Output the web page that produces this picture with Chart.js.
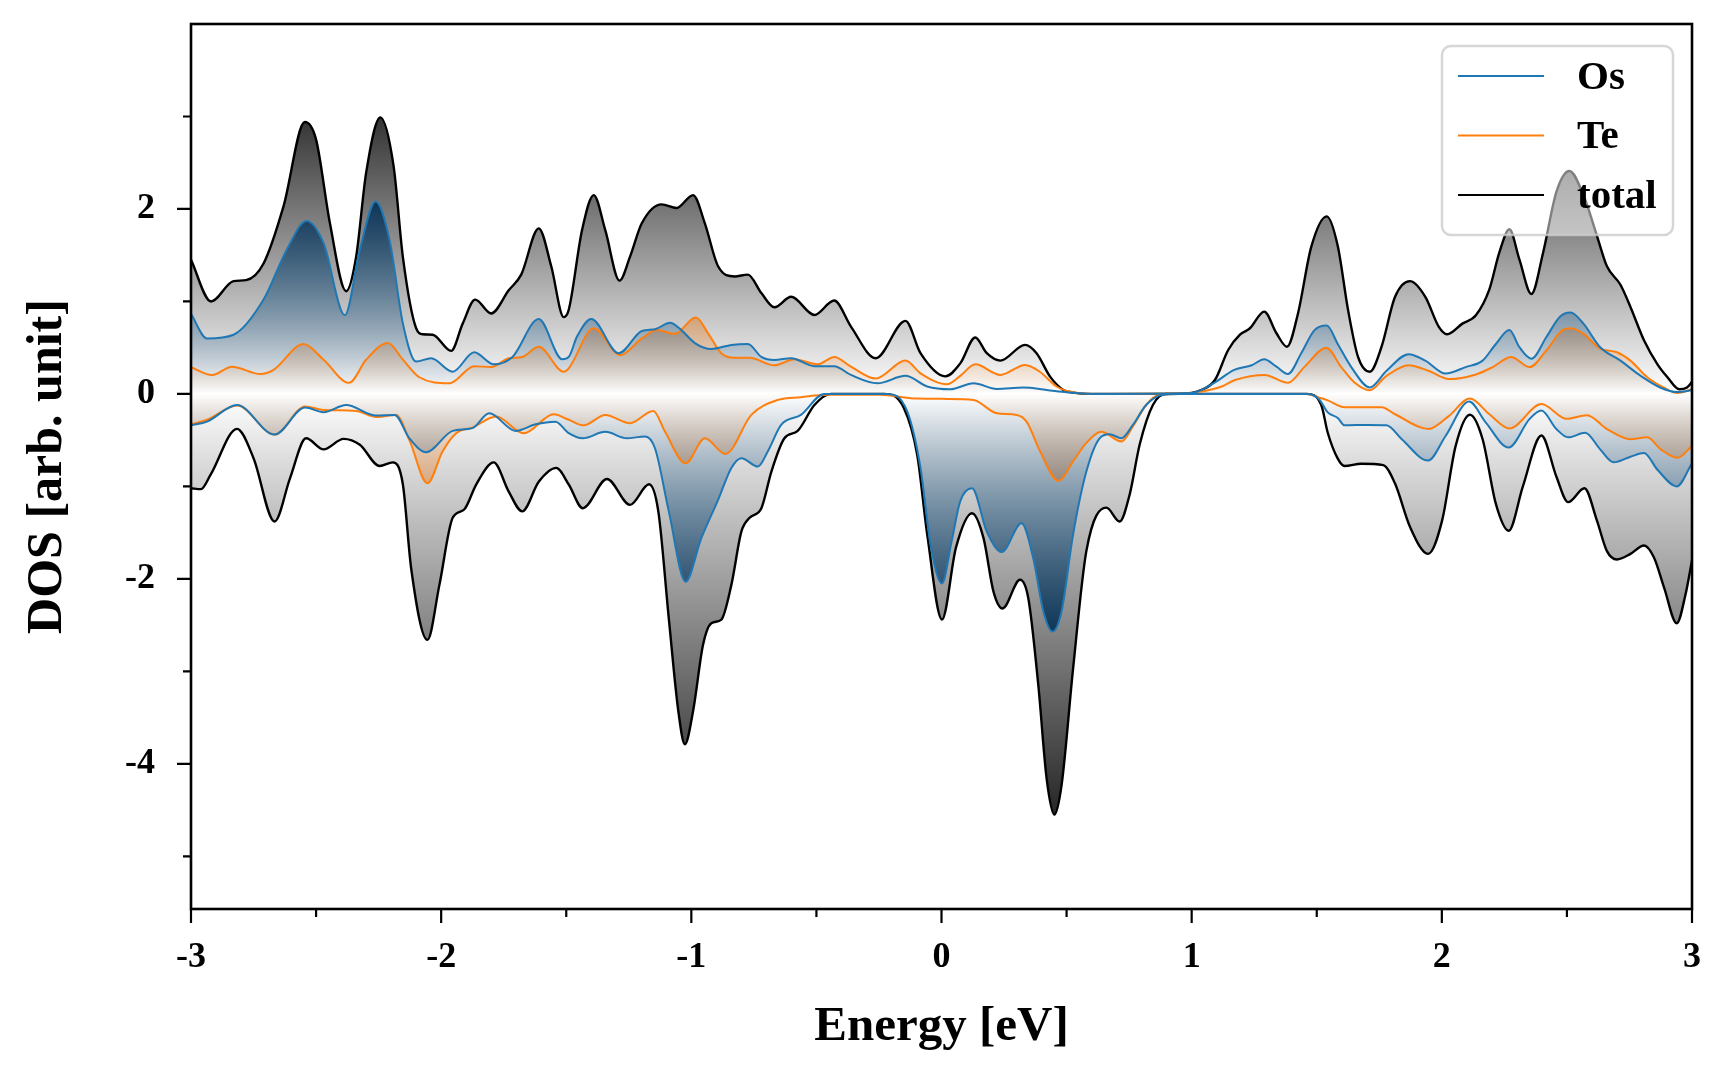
<!DOCTYPE html>
<html>
<head>
<meta charset="utf-8">
<script src="https://cdn.jsdelivr.net/npm/chart.js@4.4.1/dist/chart.umd.min.js"></script>
<style>
  html, body { margin: 0; padding: 0; background: #fff; }
  #wrap { width: 1728px; height: 1080px; }
</style>
</head>
<body>
<div id="wrap"><canvas id="dos"></canvas></div>
<script>
// Projected DOS: [energy (eV), DOS]
const osUp = [[-3.0,0.865],[-2.936,0.60],[-2.83,0.64],[-2.71,1.02],[-2.617,1.56],[-2.538,1.87],[-2.47,1.63],[-2.385,0.85],[-2.325,1.56],[-2.262,2.08],[-2.206,1.66],[-2.153,0.76],[-2.10,0.35],[-2.04,0.385],[-1.954,0.24],[-1.868,0.45],[-1.79,0.32],[-1.715,0.40],[-1.61,0.81],[-1.516,0.375],[-1.49,0.40],[-1.457,0.62],[-1.40,0.81],[-1.29,0.44],[-1.198,0.68],[-1.145,0.70],[-1.085,0.77],[-1.04,0.69],[-0.986,0.55],[-0.92,0.486],[-0.84,0.53],[-0.774,0.54],[-0.72,0.40],[-0.668,0.367],[-0.601,0.386],[-0.508,0.30],[-0.429,0.30],[-0.362,0.205],[-0.256,0.115],[-0.144,0.195],[-0.057,0.08],[0.035,0.05],[0.128,0.115],[0.221,0.054],[0.327,0.068],[0.42,0.043],[0.50,0.018],[0.6,0],[1.0,0.01],[1.09,0.12],[1.17,0.26],[1.24,0.31],[1.29,0.375],[1.339,0.295],[1.385,0.216],[1.438,0.44],[1.491,0.69],[1.54,0.74],[1.584,0.54],[1.638,0.29],[1.712,0.07],[1.779,0.25],[1.867,0.43],[1.934,0.36],[2.015,0.22],[2.095,0.29],[2.163,0.36],[2.216,0.54],[2.27,0.69],[2.31,0.505],[2.358,0.38],[2.418,0.615],[2.472,0.835],[2.515,0.88],[2.566,0.76],[2.633,0.505],[2.714,0.36],[2.795,0.195],[2.875,0.067],[2.942,0.02],[3.0,0.04]];
const teUp = [[-3.0,0.29],[-2.916,0.205],[-2.836,0.295],[-2.723,0.215],[-2.67,0.26],[-2.55,0.54],[-2.47,0.37],[-2.368,0.12],[-2.30,0.37],[-2.213,0.55],[-2.153,0.37],[-2.087,0.18],[-1.967,0.115],[-1.868,0.30],[-1.80,0.29],[-1.73,0.385],[-1.676,0.40],[-1.61,0.51],[-1.51,0.24],[-1.49,0.277],[-1.39,0.71],[-1.284,0.42],[-1.198,0.60],[-1.138,0.69],[-1.066,0.65],[-0.982,0.825],[-0.933,0.655],[-0.88,0.44],[-0.827,0.39],[-0.767,0.39],[-0.668,0.31],[-0.588,0.375],[-0.495,0.32],[-0.429,0.40],[-0.362,0.295],[-0.263,0.166],[-0.144,0.36],[-0.084,0.223],[0.022,0.105],[0.075,0.195],[0.135,0.32],[0.235,0.205],[0.334,0.313],[0.393,0.24],[0.46,0.08],[0.513,0.025],[0.6,0],[1.0,0.01],[1.04,0.025],[1.12,0.08],[1.173,0.15],[1.292,0.205],[1.385,0.12],[1.452,0.295],[1.538,0.50],[1.598,0.29],[1.652,0.12],[1.712,0.04],[1.779,0.195],[1.867,0.31],[1.947,0.25],[2.028,0.16],[2.136,0.21],[2.203,0.29],[2.277,0.40],[2.351,0.29],[2.418,0.47],[2.485,0.695],[2.515,0.71],[2.566,0.65],[2.633,0.49],[2.70,0.45],[2.754,0.36],[2.821,0.18],[2.888,0.067],[2.942,0.01],[3.0,0.05]];
const totalUp = [[-3.0,1.45],[-2.92,1.00],[-2.83,1.22],[-2.78,1.23],[-2.71,1.41],[-2.63,2.03],[-2.545,2.94],[-2.50,2.75],[-2.445,1.85],[-2.38,1.11],[-2.34,1.48],[-2.30,2.39],[-2.243,2.99],[-2.19,2.46],[-2.153,1.48],[-2.10,0.71],[-2.073,0.645],[-2.034,0.64],[-1.96,0.465],[-1.914,0.76],[-1.864,1.02],[-1.80,0.87],[-1.73,1.12],[-1.68,1.29],[-1.61,1.79],[-1.56,1.38],[-1.51,0.83],[-1.49,0.91],[-1.437,1.77],[-1.39,2.15],[-1.344,1.77],[-1.287,1.225],[-1.245,1.485],[-1.198,1.845],[-1.119,2.05],[-1.059,2.01],[-0.993,2.15],[-0.946,1.845],[-0.893,1.38],[-0.827,1.27],[-0.774,1.29],[-0.72,1.09],[-0.668,0.937],[-0.601,1.05],[-0.508,0.854],[-0.429,1.01],[-0.362,0.728],[-0.263,0.386],[-0.144,0.79],[-0.084,0.44],[0.015,0.19],[0.075,0.33],[0.135,0.61],[0.181,0.44],[0.235,0.36],[0.334,0.53],[0.38,0.44],[0.434,0.187],[0.487,0.043],[0.526,0.014],[0.6,0],[0.95,0],[1.04,0.043],[1.093,0.15],[1.146,0.475],[1.193,0.64],[1.233,0.71],[1.29,0.89],[1.339,0.656],[1.381,0.51],[1.425,0.87],[1.478,1.59],[1.54,1.92],[1.584,1.60],[1.625,0.91],[1.665,0.40],[1.712,0.24],[1.759,0.51],[1.813,1.05],[1.873,1.22],[1.934,1.05],[1.988,0.725],[2.021,0.645],[2.082,0.76],[2.136,0.85],[2.19,1.13],[2.23,1.53],[2.27,1.78],[2.31,1.455],[2.358,1.08],[2.405,1.53],[2.458,2.185],[2.51,2.41],[2.566,2.15],[2.62,1.71],[2.66,1.38],[2.714,1.18],[2.754,0.94],[2.808,0.58],[2.862,0.32],[2.902,0.18],[2.949,0.05],[2.98,0.07],[3.0,0.13]];
const osDown = [[-3.0,-0.34],[-2.936,-0.30],[-2.816,-0.12],[-2.666,-0.44],[-2.544,-0.148],[-2.47,-0.198],[-2.38,-0.12],[-2.26,-0.234],[-2.186,-0.227],[-2.127,-0.48],[-2.06,-0.63],[-1.954,-0.40],[-1.875,-0.37],[-1.808,-0.21],[-1.702,-0.40],[-1.622,-0.328],[-1.543,-0.30],[-1.49,-0.425],[-1.434,-0.48],[-1.344,-0.41],[-1.258,-0.48],[-1.185,-0.46],[-1.145,-0.59],[-1.09,-1.27],[-1.023,-2.03],[-0.96,-1.56],[-0.893,-1.146],[-0.84,-0.80],[-0.80,-0.695],[-0.734,-0.786],[-0.694,-0.62],[-0.641,-0.335],[-0.562,-0.227],[-0.469,0],[-0.217,0],[-0.137,-0.19],[-0.084,-0.80],[-0.044,-1.63],[0.002,-2.05],[0.04,-1.6],[0.075,-1.16],[0.122,-1.02],[0.181,-1.49],[0.241,-1.71],[0.32,-1.40],[0.367,-1.78],[0.407,-2.35],[0.444,-2.57],[0.48,-2.35],[0.526,-1.52],[0.579,-0.84],[0.632,-0.48],[0.672,-0.436],[0.719,-0.48],[0.765,-0.335],[0.818,-0.12],[0.884,-0.01],[0.95,0],[1.46,0],[1.51,-0.06],[1.544,-0.20],[1.584,-0.26],[1.611,-0.34],[1.705,-0.335],[1.779,-0.34],[1.84,-0.49],[1.945,-0.72],[2.015,-0.455],[2.109,-0.083],[2.176,-0.31],[2.267,-0.58],[2.351,-0.27],[2.398,-0.18],[2.458,-0.38],[2.505,-0.47],[2.573,-0.42],[2.633,-0.60],[2.687,-0.74],[2.754,-0.68],[2.808,-0.64],[2.862,-0.82],[2.939,-1.0],[3.0,-0.75]];
const teDown = [[-3.0,-0.33],[-2.936,-0.28],[-2.816,-0.126],[-2.666,-0.44],[-2.544,-0.137],[-2.47,-0.173],[-2.34,-0.184],[-2.26,-0.25],[-2.18,-0.227],[-2.127,-0.50],[-2.055,-0.966],[-1.994,-0.62],[-1.94,-0.425],[-1.875,-0.364],[-1.78,-0.245],[-1.67,-0.425],[-1.55,-0.22],[-1.49,-0.28],[-1.43,-0.34],[-1.344,-0.227],[-1.245,-0.317],[-1.152,-0.184],[-1.105,-0.41],[-1.023,-0.75],[-0.946,-0.48],[-0.864,-0.65],[-0.76,-0.227],[-0.654,-0.065],[-0.562,-0.036],[-0.455,-0.01],[-0.25,-0.01],[-0.10,-0.05],[0.022,-0.054],[0.128,-0.065],[0.221,-0.21],[0.30,-0.227],[0.34,-0.30],[0.394,-0.62],[0.467,-0.94],[0.526,-0.73],[0.579,-0.53],[0.639,-0.41],[0.719,-0.515],[0.765,-0.353],[0.818,-0.12],[0.87,-0.01],[0.95,0],[1.46,0],[1.51,-0.04],[1.544,-0.07],[1.611,-0.145],[1.759,-0.145],[1.813,-0.22],[1.947,-0.38],[2.028,-0.24],[2.112,-0.05],[2.19,-0.22],[2.27,-0.375],[2.398,-0.11],[2.499,-0.27],[2.58,-0.23],[2.66,-0.38],[2.754,-0.49],[2.821,-0.47],[2.875,-0.60],[2.942,-0.69],[3.0,-0.565]];
const totalDown = [[-3.0,-1.02],[-2.96,-1.03],[-2.922,-0.876],[-2.816,-0.378],[-2.75,-0.695],[-2.666,-1.38],[-2.604,-0.91],[-2.54,-0.48],[-2.47,-0.60],[-2.39,-0.486],[-2.325,-0.55],[-2.246,-0.78],[-2.193,-0.74],[-2.153,-0.98],[-2.12,-1.885],[-2.055,-2.66],[-2.007,-2.065],[-1.954,-1.34],[-1.908,-1.25],[-1.86,-0.98],[-1.79,-0.74],[-1.73,-1.056],[-1.676,-1.27],[-1.61,-0.95],[-1.54,-0.80],[-1.49,-0.98],[-1.434,-1.236],[-1.337,-0.92],[-1.245,-1.2],[-1.169,-0.977],[-1.132,-1.27],[-1.09,-2.43],[-1.052,-3.43],[-1.026,-3.79],[-0.993,-3.43],[-0.953,-2.71],[-0.92,-2.48],[-0.88,-2.44],[-0.84,-2.065],[-0.80,-1.49],[-0.767,-1.34],[-0.72,-1.236],[-0.68,-0.84],[-0.628,-0.48],[-0.575,-0.40],[-0.508,-0.12],[-0.442,0],[-0.23,0],[-0.15,-0.155],[-0.097,-0.66],[-0.057,-1.52],[0.002,-2.44],[0.058,-1.66],[0.122,-1.29],[0.168,-1.56],[0.208,-2.14],[0.244,-2.32],[0.314,-2.01],[0.347,-2.21],[0.387,-3.15],[0.42,-4.155],[0.451,-4.55],[0.48,-4.23],[0.526,-2.97],[0.579,-1.70],[0.659,-1.23],[0.712,-1.38],[0.752,-1.09],[0.792,-0.55],[0.845,-0.12],[0.898,0],[1.46,0],[1.518,-0.12],[1.544,-0.42],[1.584,-0.70],[1.611,-0.78],[1.678,-0.755],[1.766,-0.77],[1.813,-0.97],[1.873,-1.44],[1.945,-1.73],[2.001,-1.37],[2.055,-0.565],[2.112,-0.225],[2.163,-0.49],[2.216,-1.19],[2.267,-1.48],[2.324,-1.0],[2.398,-0.45],[2.458,-0.895],[2.505,-1.17],[2.57,-1.02],[2.62,-1.37],[2.66,-1.70],[2.70,-1.79],[2.754,-1.73],[2.808,-1.64],[2.848,-1.77],[2.889,-2.10],[2.939,-2.48],[2.974,-2.17],[3.0,-1.80]];

// Axis ticks
const xMajor = [-3, -2, -1, 0, 1, 2, 3];
const xMinor = [-2.5, -1.5, -0.5, 0.5, 1.5, 2.5];
const yMajor = [-4, -2, 0, 2];
const yMinor = [-5, -3, -1, 1, 3];

const serif = '"Liberation Serif", "Times New Roman", serif';

// vertical gradient running from the zero line out to the series' extreme value
function zeroGradient(stops) {
    return function(context) {
        const chart = context.chart;
        if (!chart.chartArea) return 'rgba(0,0,0,0)';
        const data = context.dataset.data;
        let peak = 0;
        data.forEach(function(p) { if (Math.abs(p.y) > Math.abs(peak)) peak = p.y; });
        const y = chart.scales.y;
        const g = chart.ctx.createLinearGradient(0, y.getPixelForValue(0), 0, y.getPixelForValue(peak));
        stops.forEach(function(s) { g.addColorStop(s[0], s[1]); });
        return g;
    };
}

const osFill = [[0, 'rgba(40,100,150,0)'], [0.5, 'rgba(28,82,125,0.5)'], [1, 'rgba(10,50,85,0.95)']];
const teFill = [[0, 'rgba(255,127,14,0)'], [1, 'rgba(225,112,20,0.42)']];
const totalFillUp = [[0, '#ffffff'], [1, '#333333']];
const totalFillDown = [[0, '#ffffff'], [1, '#262626']];

function series(label, pairs, color, width, fillStops, order) {
    return {
        label: label,
        data: pairs.map(function(p) { return {x: p[0], y: p[1]}; }),
        borderColor: color,
        borderWidth: width,
        backgroundColor: zeroGradient(fillStops),
        fill: 'origin',
        pointRadius: 0,
        cubicInterpolationMode: 'monotone',
        order: order,
    };
}

//Frame and outward ticks (major + minor) drawn on the library scales
const frame = {
    id: 'frame',
    afterDatasetsDraw(chart) {
        const {ctx, chartArea: a, scales: {x, y}} = chart;
        ctx.save();
        ctx.strokeStyle = '#000';
        ctx.lineWidth = 2.2;
        ctx.beginPath();
        const tick = function(list, len) {
            list.forEach(function(v) {
                const px = x.getPixelForValue(v);
                ctx.moveTo(px, a.bottom); ctx.lineTo(px, a.bottom + len);
            });
        };
        const ytick = function(list, len) {
            list.forEach(function(v) {
                const py = y.getPixelForValue(v);
                ctx.moveTo(a.left, py); ctx.lineTo(a.left - len, py);
            });
        };
        tick(xMajor, 14); tick(xMinor, 8);
        ytick(yMajor, 14); ytick(yMinor, 8);
        ctx.stroke();
        ctx.lineWidth = 2.6;
        ctx.strokeRect(a.left, a.top, a.right - a.left, a.bottom - a.top);
        ctx.restore();
    }
};

// matplotlib-style framed legend in the upper right corner
const legendBox = {
    id: 'legendBox',
    afterDraw(chart) {
        const {ctx, chartArea: a} = chart;
        const items = chart.data.datasets.slice(0, 3);
        const w = 231, h = 189;
        const left = a.right - 19 - w, top = a.top + 22;
        ctx.save();
        ctx.beginPath();
        ctx.roundRect(left, top, w, h, 9);
        ctx.fillStyle = 'rgba(255,255,255,0.5)';
        ctx.fill();
        ctx.strokeStyle = 'rgba(204,204,204,0.8)';
        ctx.lineWidth = 2.5;
        ctx.stroke();
        ctx.font = 'bold 41px ' + serif;
        ctx.textBaseline = 'middle';
        ctx.fillStyle = '#000';
        items.forEach(function(d, i) {
            const cy = top + 30 + i * 59.5;
            ctx.strokeStyle = d.borderColor;
            ctx.lineWidth = 2.2;
            ctx.beginPath();
            ctx.moveTo(left + 16, cy);
            ctx.lineTo(left + 102, cy);
            ctx.stroke();
            ctx.fillText(d.label, left + 135, cy + 2);
        });
        ctx.restore();
    }
};

const dosChart = new Chart(
    document.getElementById('dos'),
    {
        type: 'line',
        data: {
            datasets: [
                series('Os', osUp, '#1f77b4', 2, osFill, 0),
                series('Te', teUp, '#ff7f0e', 2, teFill, 1),
                series('total', totalUp, '#000000', 2.4, totalFillUp, 2),
                series('Os', osDown, '#1f77b4', 2, osFill, 0),
                series('Te', teDown, '#ff7f0e', 2, teFill, 1),
                series('total', totalDown, '#000000', 2.4, totalFillDown, 2),
            ]
        },
        options: {
            responsive: true,
            maintainAspectRatio: false,
            animation: false,
            layout: {
                autoPadding: false,
                padding: {top: 24, right: 36, left: 0, bottom: 0}
            },
            scales: {
                x: {
                    type: 'linear',
                    min: -3,
                    max: 3,
                    afterBuildTicks: function(s) { s.ticks = xMajor.map(function(v) { return {value: v}; }); },
                    afterFit: function(s) { s.height = 171; s.paddingLeft = 0; s.paddingRight = 0; },
                    grid: {display: false, drawTicks: false},
                    border: {display: false},
                    ticks: {
                        color: '#000',
                        padding: 27,
                        maxRotation: 0,
                        font: {family: serif, size: 36, weight: 'bold'},
                    },
                    title: {
                        display: true,
                        text: 'Energy [eV]',
                        color: '#000',
                        padding: {top: 0, bottom: 23},
                        font: {family: serif, size: 49, weight: 'bold'},
                    }
                },
                y: {
                    min: -5.57,
                    max: 4,
                    afterBuildTicks: function(s) { s.ticks = yMajor.map(function(v) { return {value: v}; }); },
                    afterFit: function(s) { s.width = 191; s.paddingTop = 0; s.paddingBottom = 0; },
                    grid: {display: false, drawTicks: false},
                    border: {display: false},
                    ticks: {
                        color: '#000',
                        padding: 36,
                        font: {family: serif, size: 36, weight: 'bold'},
                    },
                    title: {
                        display: true,
                        text: 'DOS [arb. unit]',
                        color: '#000',
                        padding: {top: 18, bottom: 0},
                        font: {family: serif, size: 50, weight: 'bold'},
                    }
                }
            },
            plugins: {
                legend: {display: false},
                tooltip: {enabled: false},
                filler: {drawTime: 'beforeDatasetsDraw'},
            },
        },
        plugins: [frame, legendBox]
    }
);
</script>
</body>
</html>
